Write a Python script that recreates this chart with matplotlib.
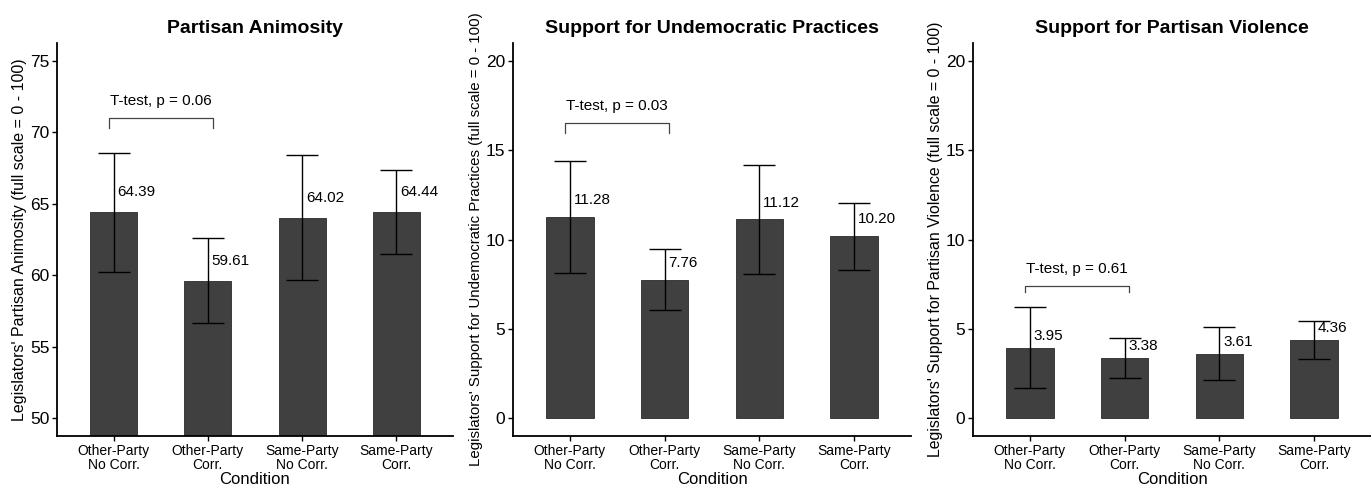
import matplotlib
matplotlib.use('Agg')
import matplotlib.pyplot as plt
import numpy as np

plt.rcParams['font.family'] = ['Liberation Sans', 'DejaVu Sans']

conditions = ['Other-Party\nNo Corr.', 'Other-Party\nCorr.', 'Same-Party\nNo Corr.', 'Same-Party\nCorr.']

titles = ['Partisan Animosity', 'Support for Undemocratic Practices', 'Support for Partisan Violence']
ylabels = ["Legislators' Partisan Animosity (full scale = 0 - 100)",
           "Legislators' Support for Undemocratic Practices (full scale = 0 - 100)",
           "Legislators' Support for Partisan Violence (full scale = 0 - 100)"]

animosity_mean = [64.39, 59.61, 64.02, 64.44]
animosity_lo = [60.24, 56.66, 59.64, 61.50]
animosity_hi = [68.53, 62.57, 68.39, 67.37]

undemocratic_mean = [11.28, 7.76, 11.12, 10.20]
undemocratic_lo = [8.14, 6.07, 8.06, 8.32]
undemocratic_hi = [14.41, 9.46, 14.15, 12.07]

violence_mean = [3.95, 3.38, 3.61, 4.36]
violence_lo = [1.68, 2.27, 2.12, 3.30]
violence_hi = [6.22, 4.47, 5.08, 5.42]

p_values = ['0.06', '0.03', '0.61']
bracket_y = [71.0, 16.5, 7.41]
bracket_tip = [0.7, 0.52, 0.37]
ylims = [(48.75, 76.25), (-1, 21), (-1, 21)]
yticks = [[50, 55, 60, 65, 70, 75], [0, 5, 10, 15, 20], [0, 5, 10, 15, 20]]
label_off = [1.4, 0.95, 0.66]
ylabel_size = [11.5, 10.8, 11.4]

means = [animosity_mean, undemocratic_mean, violence_mean]
los = [animosity_lo, undemocratic_lo, violence_lo]
his = [animosity_hi, undemocratic_hi, violence_hi]

fig = plt.figure(figsize=(13.71, 4.88), dpi=100)
lefts = [57, 513, 973]
rights = [453, 911, 1371]
axes = []
for l, r in zip(lefts, rights):
    axes.append(fig.add_axes([l / 1371, 1 - 436 / 488, (r - l) / 1371, (436 - 43) / 488]))

x = np.arange(1, 5)
for i, ax in enumerate(axes):
    m = np.array(means[i])
    lo = np.array(los[i])
    hi = np.array(his[i])
    ax.bar(x, m, width=0.5, color='#404040', edgecolor='#2a2a2a', linewidth=0.6, zorder=2)
    ax.errorbar(x, m, yerr=[m - lo, hi - m], fmt='none', ecolor='black', elinewidth=1.0,
                capsize=11.5, capthick=1.0, zorder=3)
    for xi, mi in zip(x, m):
        ax.text(xi + 0.04, mi + label_off[i], '%.2f' % mi, ha='left', va='center', fontsize=11, zorder=4)
    # significance bracket
    by = bracket_y[i]
    tip = bracket_tip[i]
    ax.plot([0.95, 0.95, 2.05, 2.05], [by - tip, by, by, by - tip], color='#444444', lw=0.9,
            clip_on=False, zorder=4)
    ax.text(1.5, by + (ylims[i][1] - ylims[i][0]) * 0.043, 'T-test, p = ' + p_values[i],
            ha='center', va='center', fontsize=11)

    ax.set_xlim(0.4, 4.6)
    ax.set_ylim(*ylims[i])
    ax.set_yticks(yticks[i])
    ax.set_xticks(x)
    ax.set_xticklabels(conditions, fontsize=10, linespacing=1.0)
    ax.tick_params(axis='y', labelsize=12.5, length=3.5, width=1, pad=2)
    ax.tick_params(axis='x', length=3.5, width=1, pad=2)
    for s in ['top', 'right']:
        ax.spines[s].set_visible(False)
    for s in ['left', 'bottom']:
        ax.spines[s].set_linewidth(1.3)
    ax.set_xlabel('Condition', fontsize=12, labelpad=0.5)
    ax.set_ylabel(ylabels[i], fontsize=ylabel_size[i], labelpad=2)
    ax.set_title(titles[i], fontsize=14, fontweight='bold', pad=7)

fig.savefig('out.png', dpi=100)
